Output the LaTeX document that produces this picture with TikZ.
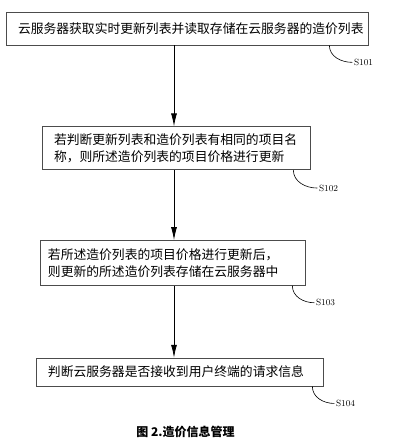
\documentclass[tikz,border=0pt]{standalone}
\usepackage{fontspec}
\newfontfamily\cjk{Noto Sans CJK SC}
\usepackage{tikz}
\usetikzlibrary{arrows.meta, positioning, calc}

\begin{document}
\begin{tikzpicture}[
    stepbox/.style={rectangle, draw=black!70, line width=0.7pt, align=left, inner xsep=12pt, inner ysep=3pt, font=\cjk\fontsize{12.8}{17}\selectfont},
    steplabel/.style={inner sep=1.5pt, font=\fontsize{9}{10}\selectfont},
    arrow/.style={draw, -{Latex[length=13pt, width=6pt]}, line width=0.8pt},
    leader/.style={draw, line width=0.6pt}
]
\useasboundingbox (0,0) rectangle (402pt,-440pt);

% Steps
\node[stepbox, text width=338pt, minimum height=33pt] (s101) at (187pt,-28.5pt) {云服务器获取实时更新列表并读取存储在云服务器的造价列表};
\node[stepbox, text width=244pt, minimum height=43pt, below=81pt of s101, xshift=-11pt] (s102) {若判断更新列表和造价列表有相同的项目名\\称，则所述造价列表的项目价格进行更新};
\node[stepbox, inner xsep=8pt, text width=249pt, minimum height=45pt, below=70pt of s102, xshift=-3.5pt] (s103) {若所述造价列表的项目价格进行更新后，\\则更新的所述造价列表存储在云服务器中};
\node[stepbox, text width=263pt, minimum height=28pt, below=72pt of s103, xshift=7pt] (s104) {判断云服务器是否接收到用户终端的请求信息};

% Step labels
\node[steplabel, anchor=west] (l101) at ([xshift=-16pt, yshift=-17pt]s101.south east) {S101};
\node[steplabel, anchor=west] (l102) at ([xshift=7pt, yshift=-18pt]s102.south east) {S102};
\node[steplabel, anchor=west] (l103) at ([xshift=9pt, yshift=-17pt]s103.south east) {S103};
\node[steplabel, anchor=west] (l104) at ([xshift=11pt, yshift=-17pt]s104.south east) {S104};

% Caption
\node[font=\cjk\bfseries\fontsize{12}{14}\selectfont, below=36pt of s104, xshift=6pt] (caption) {图 2.造价信息管理};

% Connectors
\coordinate (axis) at (174pt,0);
\draw[arrow] (s101.south -| axis) -- (s102.north -| axis);
\draw[arrow] (s102.south -| axis) -- (s103.north -| axis);
\draw[arrow] (s103.south -| axis) -- (s104.north -| axis);

\draw[leader] ([xshift=-39pt]s101.south east) to[out=-90, in=180] (l101.west);
\draw[leader] ([xshift=-17pt]s102.south east) to[out=-90, in=180] (l102.west);
\draw[leader] ([xshift=-13pt]s103.south east) to[out=-90, in=180] (l103.west);
\draw[leader] ([xshift=-11pt]s104.south east) to[out=-90, in=180] (l104.west);

\end{tikzpicture}
\end{document}
